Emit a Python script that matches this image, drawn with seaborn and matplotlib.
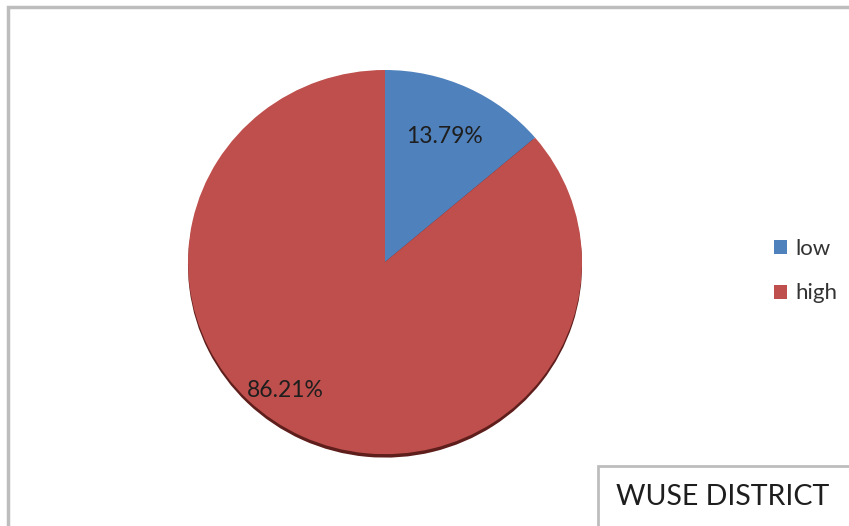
import matplotlib
matplotlib.use("Agg")
import matplotlib.pyplot as plt
from matplotlib.patches import Rectangle
import numpy as np
import seaborn as sns

# data
labels = ["low", "high"]
shares = [13.79, 86.21]
colors = ["#4F81BD", "#BE4F4C"]
title = "WUSE DISTRICT"

sns.set_style("white")
plt.rcParams["font.family"] = ["Lato", "DejaVu Sans"]

fig = plt.figure(figsize=(8.49, 5.26), dpi=100)
W, H = 849, 526

# outer chart border (gray)
fig.patches.append(Rectangle((8 / W, -0.1), 1.1, 1 - 7 / H + 0.1, transform=fig.transFigure,
                             fill=False, edgecolor="#BDBDBD", linewidth=2.5))

ax = fig.add_axes([188 / W, (526 - 458) / H, 394 / W, 388 / H])

# shadow underneath
ax.pie(shares, colors=["#5E1E1C", "#5E1E1C"], startangle=90, counterclock=False,
       radius=1.0, center=(0.0, -0.018), wedgeprops=dict(linewidth=0))

wedges, texts, autotexts = ax.pie(shares, colors=colors, startangle=90, counterclock=False,
                                  autopct="%.2f%%", pctdistance=0.72,
                                  wedgeprops=dict(linewidth=0),
                                  textprops=dict(fontsize=16.5, color="#1E1E1E"))
# Excel best-fit placement for the big slice label
ang = np.deg2rad(-127)
autotexts[1].set_position((0.84 * np.cos(ang), 0.84 * np.sin(ang)))
ax.set_aspect("auto")
ax.set_xlim(-1.0, 1.0)
ax.set_ylim(-1.02, 1.0)
ax.axis("off")

leg = fig.legend(wedges, labels, loc="upper left", bbox_to_anchor=(754 / W, 1 - 219 / H),
                 frameon=False, fontsize=16, handlelength=0.6, handleheight=0.6,
                 handletextpad=0.35, labelspacing=1.1, labelcolor="#333333")

# title box at bottom right
fig.patches.append(Rectangle((598 / W, -0.1), 0.6, (526 - 466) / H + 0.1, transform=fig.transFigure,
                             fill=True, facecolor="white", edgecolor="#BDBDBD", linewidth=2))
fig.text(616 / W, 1 - 497 / H, title, fontsize=20.5, color="#1E1E1E", va="center", ha="left")

fig.savefig("out.png", dpi=100, facecolor="white")
